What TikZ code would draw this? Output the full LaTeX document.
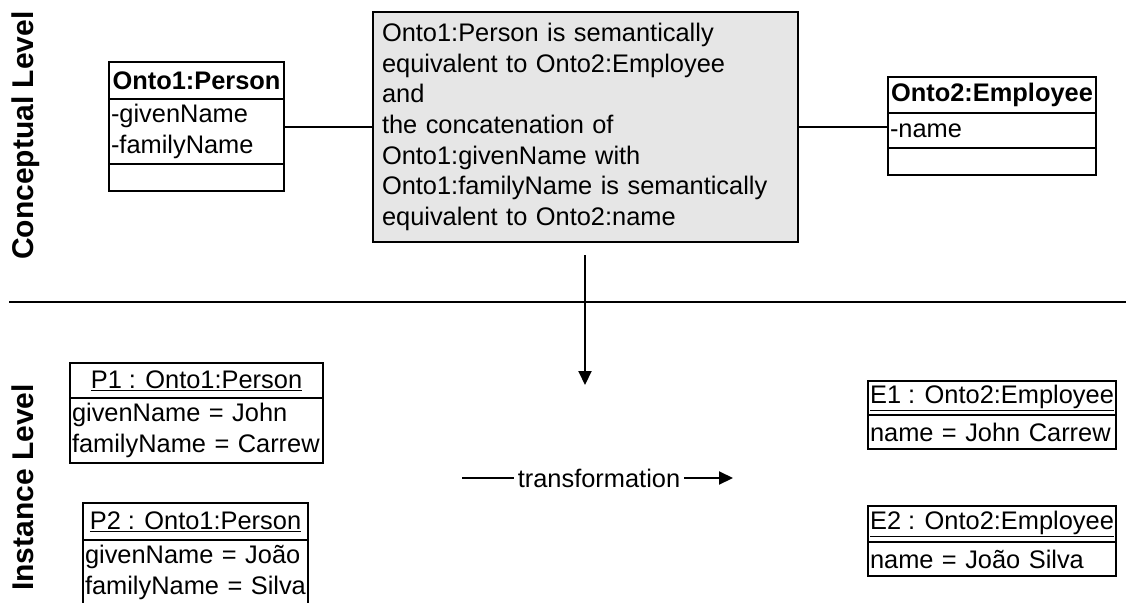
\documentclass[tikz,border=0pt]{standalone}
\usepackage{fontspec}
\setmainfont{Liberation Sans}
\usetikzlibrary{arrows.meta}

\definecolor{notefill}{RGB}{230,230,230}
\newcommand\diagfont{\fontsize{25.4}{30.7}\selectfont}
\newcommand\levelfont{\fontsize{30}{36}\selectfont\bfseries}

\tikzset{
  cell/.style={draw, line width=2pt, inner sep=0pt, outer sep=0pt,
    anchor=north west, font=\diagfont},
  hdr/.style={cell, align=center},
  attrs/.style={cell, align=left, inner xsep=2pt},
  level/.style={font=\levelfont, rotate=90, anchor=base, inner sep=0pt},
  conn/.style={line width=2pt},
  flow/.style={conn, -{Triangle[length=14pt,width=13pt]}},
}

\begin{document}
\begin{tikzpicture}[x=1pt, y=-1pt]
\clip (0,0) rectangle (1126,602);

% level captions and the separating rule
\node[level] (lvl-c) at (33,135.5) {Conceptual Level};
\node[level] (lvl-i) at (33,487.5) {Instance Level};
\coordinate (rule-l) at (9,302);
\coordinate (rule-r) at (1126,302);
\draw[line width=2.3pt] (rule-l) -- (rule-r);

% class Onto1:Person
\node[hdr, font=\diagfont\bfseries, minimum width=175, minimum height=37] (pc-h) at (109,62) {Onto1:Person};
\node[attrs, text width=171, minimum height=65] (pc-a) at (109,99) {-givenName\\-familyName};
\node[cell, minimum width=175, minimum height=27] (pc-o) at (109,164) {};

% class Onto2:Employee
\node[hdr, font=\diagfont\bfseries, minimum width=208, minimum height=36] (ec-h) at (888,77) {Onto2:Employee};
\node[attrs, text width=204, minimum height=35] (ec-a) at (888,113) {-name};
\node[cell, minimum width=208, minimum height=27] (ec-o) at (888,148) {};

% correspondence note
\node[cell, fill=notefill, text width=407, inner xsep=9pt, minimum height=230, align=left] (note) at (373,12)
  {Onto1:Person is semantically\\
   equivalent to Onto2:Employee\\
   and\\
   the concatenation of\\
   Onto1:givenName with\\
   Onto1:familyName is semantically\\
   equivalent to Onto2:name};

\draw[conn] (note.west) -- (note.west -| pc-a.east);
\draw[conn] (note.east) -- (note.east -| ec-a.west);

% from the conceptual mapping down to the instances
\coordinate (down-s) at (585,255);
\coordinate (down-e) at (585,385);
\draw[flow] (down-s) -- (down-e);

% instances of Onto1:Person
\node[hdr, minimum width=253, minimum height=35] (p1-h) at (70,363) {\underline{P1 : Onto1:Person}};
\node[attrs, text width=249, minimum height=65] (p1-a) at (70,398) {\mbox{givenName = John}\\\mbox{familyName = Carrew}};

\node[hdr, minimum width=225, minimum height=37] (p2-h) at (83,503) {\underline{P2 : Onto1:Person}};
\node[attrs, text width=221, minimum height=65] (p2-a) at (83,540) {\mbox{givenName = João}\\\mbox{familyName = Silva}};

% transformation step
\coordinate (tr-s) at (462,478);
\coordinate (tr-e) at (733,478);
\node[font=\diagfont, inner xsep=4pt, inner ysep=0pt] (tr) at (599,478) {transformation};
\draw[conn] (tr-s) -- (tr.west);
\draw[flow] (tr.east) -- (tr-e);

% instances of Onto2:Employee
\node[hdr, minimum width=248, minimum height=34] (e1-h) at (868,381) {\underline{E1 : Onto2:Employee}};
\node[attrs, text width=244, minimum height=34] (e1-a) at (868,415) {name = John Carrew};

\node[hdr, minimum width=248, minimum height=36] (e2-h) at (868,506) {\underline{E2 : Onto2:Employee}};
\node[attrs, text width=244, minimum height=34] (e2-a) at (868,542) {name = João Silva};
\end{tikzpicture}
\end{document}
